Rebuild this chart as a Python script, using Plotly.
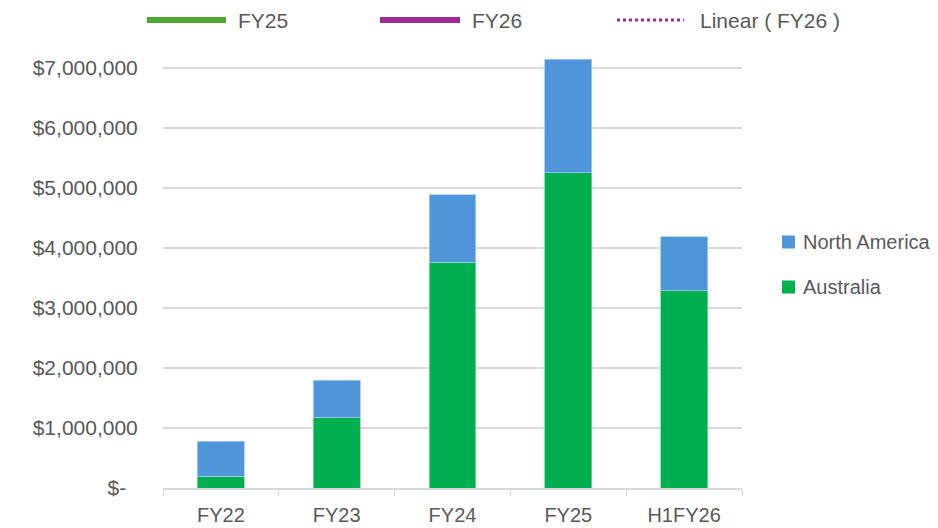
import plotly.graph_objects as go

categories = ["FY22", "FY23", "FY24", "FY25", "H1FY26"]
australia = [200000, 1170000, 3760000, 5255000, 3290000]
north_america = [580000, 630000, 1130000, 1895000, 900000]

y_tick_vals = [0, 1000000, 2000000, 3000000, 4000000, 5000000, 6000000, 7000000]
y_tick_text = ["$-\u00a0\u00a0", "$1,000,000", "$2,000,000", "$3,000,000", "$4,000,000",
               "$5,000,000", "$6,000,000", "$7,000,000"]

top_legend_labels = ["FY25", "FY26", "Linear ( FY26 )"]
top_legend_colors = ["#4EA72E", "#A02B93", "#A02B93"]

series_names = ["North America", "Australia"]
series_colors = ["#4E95D9", "#00B050"]

FONT = "Arial, Liberation Sans, sans-serif"
GREY = "#595959"

fig = go.Figure()
fig.add_trace(go.Bar(x=categories, y=australia, name=series_names[1],
                     marker=dict(color=series_colors[1], line=dict(color="#7FD8A7", width=0.8)),
                     showlegend=False))
fig.add_trace(go.Bar(x=categories, y=north_america, name=series_names[0],
                     marker=dict(color=series_colors[0], line=dict(color="#A6CAEC", width=0.8)),
                     showlegend=False))

# page body has an 8px margin: figure drawn at (8, 8)
OFF = 8
W, H = 938 - OFF, 528 - OFF
L, R, T, B = 163, 742, 59, 488   # plot area in window pixels

def px(x):
    return (x - L) / (R - L)

def py(y):
    return (B - y) / (B - T)

shapes = []
annotations = []
# top legend (line legend)
segs = [(147, 226, "solid", 6), (380, 460, "solid", 6), (617, 684, "dot", 3)]
text_x = [236, 470, 698]
for (x0, x1, dash, w), col, lab, tx in zip(segs, top_legend_colors, top_legend_labels, text_x):
    shapes.append(dict(type="line", xref="paper", yref="paper",
                       x0=px(x0), x1=px(x1), y0=py(20), y1=py(20),
                       line=dict(color=col, width=w, dash=dash)))
    annotations.append(dict(xref="paper", yref="paper", x=px(tx), y=py(20),
                            xanchor="left", yanchor="middle", showarrow=False,
                            text=lab, font=dict(family=FONT, size=21, color=GREY)))

# right legend (series legend)
for name, col, yc in zip(series_names, series_colors, [242, 287]):
    shapes.append(dict(type="rect", xref="paper", yref="paper",
                       x0=px(782), x1=px(795), y0=py(yc - 6.5), y1=py(yc + 6.5),
                       fillcolor=col, line=dict(width=0)))
    annotations.append(dict(xref="paper", yref="paper", x=px(801), y=py(yc),
                            xanchor="left", yanchor="middle", showarrow=False,
                            text=name, font=dict(family=FONT, size=20, color=GREY)))

fig.update_layout(
    width=W, height=H,
    margin=dict(l=L - OFF, r=938 - R, t=T - OFF, b=528 - B),
    paper_bgcolor="white", plot_bgcolor="white",
    barmode="stack", bargap=0.595,
    font=dict(family=FONT, size=21, color=GREY),
    showlegend=False,
    shapes=shapes,
    annotations=annotations,
    xaxis=dict(showline=True, linecolor="#D9D9D9", linewidth=1.5,
               ticks="outside", tickson="boundaries", ticklen=6, tickcolor="#D9D9D9",
               tickfont=dict(family=FONT, size=20, color=GREY),
               ticklabelstandoff=8, automargin=False),
    yaxis=dict(range=[0, 7150000], tickvals=y_tick_vals, ticktext=y_tick_text,
               showgrid=True, gridcolor="#D9D9D9", gridwidth=1.5,
               zeroline=False, showline=False,
               tickfont=dict(family=FONT, size=21, color=GREY),
               ticks="outside", ticklen=20, tickcolor="rgba(0,0,0,0)",
               automargin=False),
)

fig.write_html("out.html")
